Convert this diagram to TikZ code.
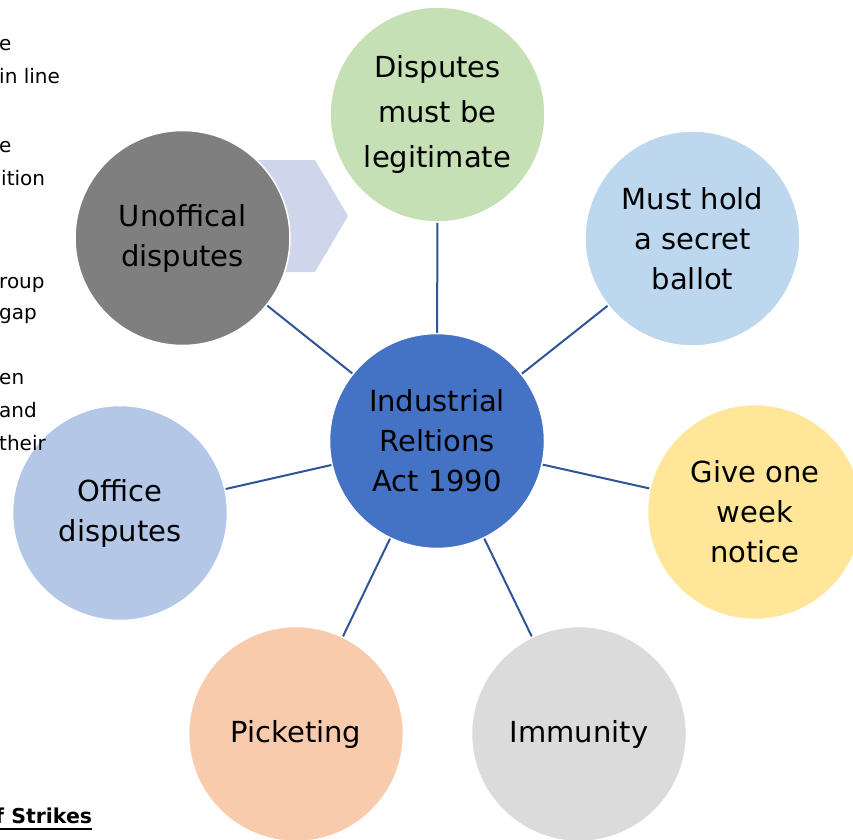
\documentclass[tikz,border=0pt]{standalone}
\usepackage{fontspec}
\setmainfont{DejaVu Sans}
\usepackage{tikz}
\usetikzlibrary{backgrounds}
\definecolor{hubblue}{HTML}{4472C4}
\definecolor{spokeblue}{HTML}{2F5597}
\definecolor{legitgreen}{HTML}{C5E0B4}
\definecolor{ballotblue}{HTML}{BDD7EE}
\definecolor{noticeyellow}{HTML}{FFE699}
\definecolor{immunegray}{HTML}{DBDBDB}
\definecolor{picketpeach}{HTML}{F8CBAD}
\definecolor{officeblue}{HTML}{B4C7E7}
\definecolor{unoffgray}{HTML}{7F7F7F}
\definecolor{chevronfill}{HTML}{CFD5EA}
\tikzstyle{topic}=[circle,draw=white,line width=1.5pt,minimum size=215pt,inner sep=0pt,outer sep=0pt,align=center,font=\fontsize{29}{40}\selectfont]
\tikzstyle{spoke}=[-,draw=spokeblue,line width=2pt]
\tikzstyle{margintext}=[anchor=base west,inner sep=0pt,font=\fontsize{20}{24}\selectfont]
\pgfdeclarelayer{edgelayer}
\pgfdeclarelayer{nodelayer}
\pgfsetlayers{edgelayer,nodelayer,main}

\begin{document}
\begin{tikzpicture}[x=1pt,y=-1pt]
	\useasboundingbox (0,0) rectangle (853,839);
	\begin{pgfonlayer}{nodelayer}
		\node [style=topic,fill=hubblue] (act) at (437,441) {Industrial\\Reltions\\Act 1990};
		\node [style=topic,fill=legitgreen,font=\fontsize{29}{45}\selectfont] (legit) at (437.5,114.5) {Disputes\\must be\\legitimate};
		\node [style=topic,fill=ballotblue] (ballot) at (692.5,238.5) {Must hold\\a secret\\ballot};
		\node [style=topic,fill=noticeyellow] (notice) at (755,512) {Give one\\week\\notice};
		\node [style=topic,fill=immunegray] (immune) at (579,734) {Immunity};
		\node [style=topic,fill=picketpeach] (picket) at (296,734) {Picketing};
		\node [style=topic,fill=officeblue] (office) at (120,513) {Office\\disputes};
		\node [style=topic,fill=unoffgray] (unoff) at (182.5,238) {Unoffical\\disputes};
	\end{pgfonlayer}
	\begin{pgfonlayer}{edgelayer}
		\fill [white] (0,0) rectangle (853,839);
		% arrow behind the grey circle
		\fill [chevronfill] (255,160) -- (315,160) -- (348,216) -- (315,272) -- (255,272) -- (288,216) -- cycle;
		\draw [style=spoke] (act) -- (legit);
		\draw [style=spoke] (act) -- (ballot);
		\draw [style=spoke] (act) -- (notice);
		\draw [style=spoke] (act) -- (immune);
		\draw [style=spoke] (act) -- (picket);
		\draw [style=spoke] (act) -- (office);
		\draw [style=spoke] (act) -- (unoff);
	\end{pgfonlayer}
	% cut-off page text on the left
	\node [style=margintext] (t1) at (-1,50) {e};
	\node [style=margintext] (t2) at (-1,83) {in line};
	\node [style=margintext] (t3) at (-1,152) {e};
	\node [style=margintext] (t4) at (1,185) {ition};
	\node [style=margintext] (t5) at (-1,288) {roup};
	\node [style=margintext] (t6) at (-1,319) {gap};
	\node [style=margintext] (t7) at (-1,384) {en};
	\node [style=margintext] (t8) at (-1,417) {and};
	\node [style=margintext] (t9) at (-1,450) {their};
	\node [style=margintext,font=\fontsize{20.5}{24}\selectfont\bfseries] (strikes) at (-5,823) {f Strikes};
	\draw [line width=1.6pt] ([yshift=-6pt]strikes.base west) -- ([yshift=-6pt]strikes.base east);
\end{tikzpicture}
\end{document}
